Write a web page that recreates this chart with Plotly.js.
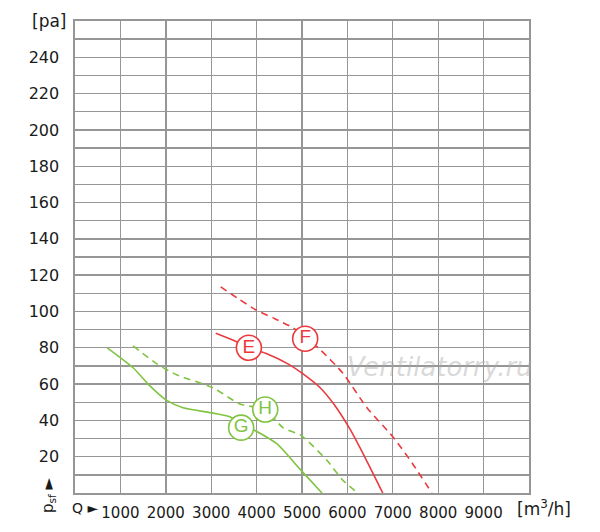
<!DOCTYPE html>
<html>
<head>
<meta charset="utf-8">
<script src="https://cdn.plot.ly/plotly-3.0.1.min.js"></script>
<style>
  body { margin: 0; background: white; }
  #chart { width: 600px; height: 532px; }
</style>
</head>
<body>
<div id="chart"></div>
<script>
// kurvor, Q i m3/h och psf i pa
var eQ = [3100, 3500, 3830, 4200, 4700, 5000, 5400, 5700, 6060, 6400, 6780];
var eP = [88, 84, 80, 77, 71, 66, 58, 49, 35, 19, 0];

var fQ = [3210, 3600, 4010, 4400, 4800, 5070, 5400, 5900, 6430, 7000, 7440, 7860];
var fP = [113.5, 107, 100.5, 96, 91, 86, 79, 66, 47, 31, 16, 0];

var gQ = [710, 1280, 1650, 2020, 2380, 3040, 3410, 3660, 3920, 4450, 4960, 5440];
var gP = [80, 69, 59, 51, 47, 44, 42, 38, 35, 27, 13, 0];

var hQ = [1280, 1810, 2250, 3040, 3630, 4190, 4580, 4960, 5110, 5550, 5900, 6230];
var hP = [81, 71, 65, 58, 49, 46, 36, 32, 29, 18, 7, 0];

// bokstäver i cirklarna
var labelNames = ['E', 'F', 'G', 'H'];
var labelQ = [3830, 5070, 3660, 4190];
var labelP = [80, 85, 36, 46];

var xTicks = [0, 1000, 2000, 3000, 4000, 5000, 6000, 7000, 8000, 9000, 10000];
var xTickText = [' ', '1000', '2000', '3000', '4000', '5000', '6000', '7000', '8000', '9000', ' '];
var yTicks = [0, 10, 20, 30, 40, 50, 60, 70, 80, 90, 100, 110, 120, 130, 140, 150, 160, 170, 180, 190, 200, 210, 220, 230, 240, 250, 260];
var yTickText = [' ', ' ', '20', ' ', '40', ' ', '60', ' ', '80', ' ', '100', ' ', '120', ' ', '140', ' ', '160', ' ', '180', ' ', '200', ' ', '220', ' ', '240', ' ', ' '];

var red = 'rgb(234,58,62)';
var green = 'rgb(128,196,66)';

function curve(x, y, color, dash) {
  return {
    x: x,
    y: y,
    type: 'scatter',
    mode: 'lines',
    hoverinfo: 'skip',
    line: {
      color: color,
      width: 1.6,
      shape: 'spline',
      smoothing: 0.6,
      dash: dash
    }
  };
}

var labelColors = [red, red, green, green];

var data = [
  curve(eQ, eP, red, 'solid'),
  curve(fQ, fP, red, '7px,5px'),
  curve(gQ, gP, green, 'solid'),
  curve(hQ, hP, green, '7px,5px'),
  {
    x: labelQ,
    y: labelP,
    text: labelNames,
    type: 'scatter',
    mode: 'markers+text',
    textposition: 'middle center',
    hoverinfo: 'skip',
    textfont: {
      family: 'Liberation Sans, sans-serif',
      size: 19,
      color: labelColors
    },
    marker: {
      symbol: 'circle',
      size: 25,
      color: 'white',
      line: {
        color: labelColors,
        width: 1.6
      }
    }
  }
];

var gridColor = 'rgb(150,150,150)';
var textColor = '#1a1a1a';

var layout = {
  width: 600,
  height: 532,
  showlegend: false,
  paper_bgcolor: 'white',
  plot_bgcolor: 'white',
  font: {
    family: 'DejaVu Sans, sans-serif',
    color: textColor,
    size: 16
  },
  margin: {
    t: 21,
    r: 71,
    b: 39,
    l: 75,
    pad: 0
  },
  xaxis: {
    range: [0, 10000],
    tickmode: 'array',
    tickvals: xTicks,
    ticktext: xTickText,
    tickfont: { size: 15 },
    showgrid: true,
    gridcolor: gridColor,
    gridwidth: 1.4,
    zeroline: false,
    showline: true,
    mirror: true,
    linecolor: gridColor,
    linewidth: 1.6,
    ticks: '',
    ticklabelstandoff: 5,
    fixedrange: true
  },
  yaxis: {
    range: [0, 260],
    tickmode: 'array',
    tickvals: yTicks,
    ticktext: yTickText,
    tickfont: { size: 16 },
    showgrid: true,
    gridcolor: gridColor,
    gridwidth: 1.4,
    zeroline: false,
    showline: true,
    mirror: true,
    linecolor: gridColor,
    linewidth: 1.6,
    ticks: '',
    ticklabelstandoff: 11,
    fixedrange: true
  },
  annotations: [
    {
      text: '[pa]',
      xref: 'paper', yref: 'paper',
      x: -0.015, y: 1.0,
      xanchor: 'right', yanchor: 'middle',
      showarrow: false,
      font: { size: 17, color: textColor }
    },
    {
      text: 'Q \u25BA',
      xref: 'paper', yref: 'paper',
      x: -0.012, y: -0.032,
      xanchor: 'left', yanchor: 'middle',
      showarrow: false,
      font: { size: 14, color: textColor }
    },
    {
      text: '[m<sup>3</sup>/h]',
      xref: 'paper', yref: 'paper',
      x: 0.97, y: -0.032,
      xanchor: 'left', yanchor: 'middle',
      showarrow: false,
      font: { size: 17, color: textColor }
    },
    {
      text: 'p<sub>sf</sub> \u25BA',
      xref: 'paper', yref: 'paper',
      x: -0.058, y: -0.005,
      xanchor: 'center', yanchor: 'middle',
      textangle: -90,
      showarrow: false,
      font: { size: 15, color: textColor }
    },
    {
      text: '<i>Ventilatorry.ru</i>',
      xref: 'paper', yref: 'paper',
      x: 0.805, y: 0.267,
      xanchor: 'center', yanchor: 'middle',
      showarrow: false,
      font: { family: 'DejaVu Sans, sans-serif', size: 26, color: 'rgba(170,170,170,0.45)' }
    }
  ]
};

Plotly.newPlot('chart', data, layout, { staticPlot: true });
</script>
</body>
</html>
